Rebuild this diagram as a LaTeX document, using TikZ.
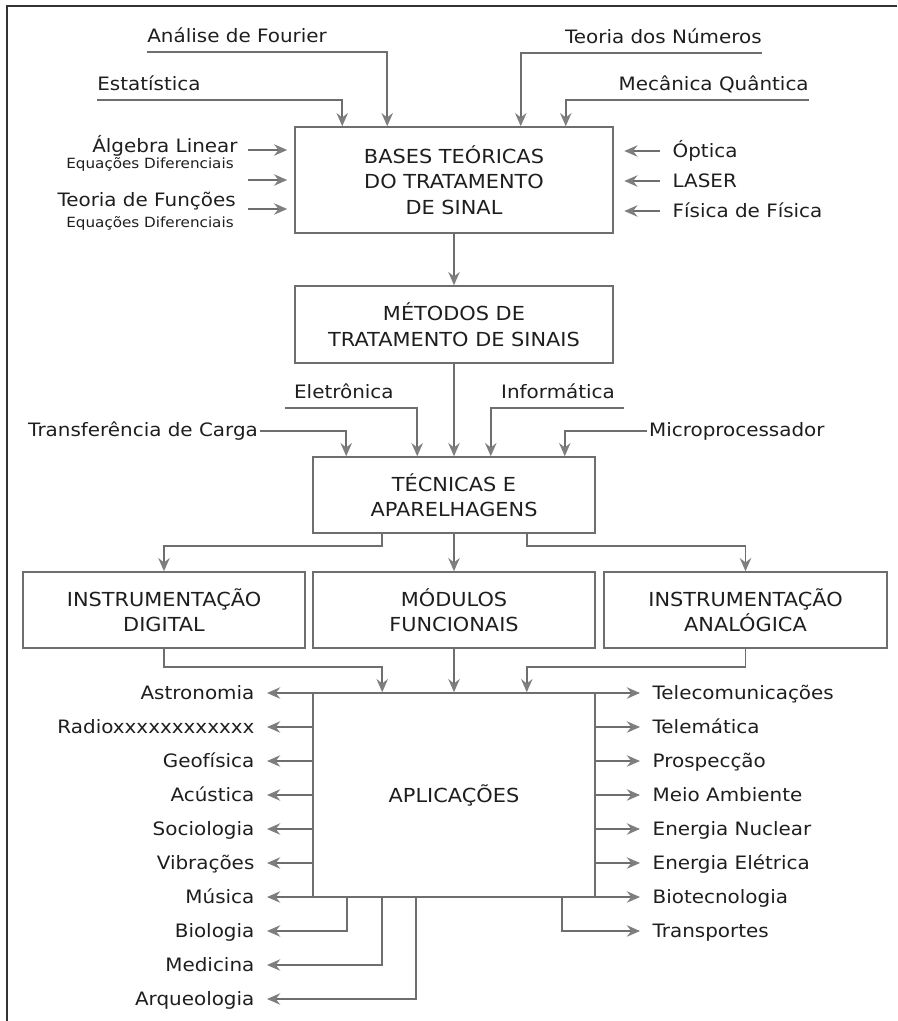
\documentclass[tikz,border=0pt]{standalone}
\usepackage{fontspec}
\setmainfont{DejaVu Sans}[FakeStretch=1.08]
\usetikzlibrary{arrows.meta}
\definecolor{traco}{HTML}{6E6E6E}
\definecolor{ponta}{HTML}{7E7E7E}
\definecolor{moldura}{HTML}{333333}
\definecolor{texto}{HTML}{1E1E1E}
\newcommand{\appesq}[3]{\node[rotesq] (#1) at (267,#2) {#3};}
\newcommand{\appdir}[3]{\node[rotdir] (#1) at (640,#2) {#3};}
\newcommand{\saiesq}[1]{\draw[seta] (aplic.west |- #1) -- (#1.east);}
\newcommand{\saidir}[1]{\draw[seta] (aplic.east |- #1) -- (#1.west);}
\begin{document}
\begin{tikzpicture}[x=0.02cm,y=-0.02cm,text=texto,
  font=\fontsize{10.5}{13}\selectfont,
  bloco/.style={draw=traco,line width=0.9pt,align=center,inner sep=0pt,
    font=\fontsize{11}{14.5}\selectfont},
  seta/.style={draw=traco,line width=0.9pt,
    -{Stealth[length=7.5pt,width=6.5pt,inset=2.5pt,color=ponta]}},
  entrada/.style={inner xsep=0pt,inner ysep=5pt,text depth=0pt},
  rotesq/.style={anchor=east,inner xsep=7pt,inner ysep=0pt,text height=7.6pt,text depth=0pt},
  rotdir/.style={anchor=west,inner xsep=7pt,inner ysep=0pt,text height=7.6pt,text depth=0pt},
  pequeno/.style={font=\fontsize{8}{9}\selectfont}]
   	\useasboundingbox (0,0) rectangle (897,1021);
   	\draw[moldura,line width=1pt] (897,6) -- (7,6) -- (7,1021);

	\node[bloco,minimum width=6.36cm,minimum height=2.12cm] (bases) at (454,180) {BASES TEÓRICAS\\DO TRATAMENTO\\DE SINAL};
	\node[bloco,minimum width=6.36cm,minimum height=1.54cm] (metodos) at (454,324.5) {MÉTODOS DE\\TRATAMENTO DE SINAIS};
	\node[bloco,minimum width=5.64cm,minimum height=1.52cm] (tecnicas) at (454,495) {TÉCNICAS E\\APARELHAGENS};
	\node[bloco,minimum width=5.64cm,minimum height=1.52cm] (digital) at (164,610) {INSTRUMENTAÇÃO\\DIGITAL};
	\node[bloco,minimum width=5.64cm,minimum height=1.52cm] (modulos) at (454,610) {MÓDULOS\\FUNCIONAIS};
	\node[bloco,minimum width=5.66cm,minimum height=1.52cm] (analog) at (745.5,610) {INSTRUMENTAÇÃO\\ANALÓGICA};
	\node[bloco,minimum width=5.64cm,minimum height=4.08cm] (aplic) at (454,795) {APLICAÇÕES};

	\node[entrada,anchor=south west] (fourier) at (147,52) {Análise de Fourier};
	\node[entrada,anchor=south west] (estat) at (97,100) {Estatística};
	\node[entrada,anchor=south east] (numeros) at (762,53) {Teoria dos Números};
	\node[entrada,anchor=south east] (mecanica) at (809,100) {Mecânica Quântica};
	\draw[seta] (fourier.south west) -| ([xshift=1.86cm]bases.north west);
	\draw[seta] (estat.south west) -| ([xshift=0.96cm]bases.north west);
	\draw[seta] (numeros.south east) -| ([xshift=-1.86cm]bases.north east);
	\draw[seta] (mecanica.south east) -| ([xshift=-0.96cm]bases.north east);

	\node[anchor=base east,inner sep=0pt] (algebra) at (238,152) {Álgebra Linear};
	\node[anchor=base east,inner sep=0pt,pequeno] (eqdif1) at (234,168) {Equações Diferenciais};
	\node[anchor=base east,inner sep=0pt] (teoriaf) at (236,206) {Teoria de Funções};
	\node[anchor=base east,inner sep=0pt,pequeno] (eqdif2) at (234,227) {Equações Diferenciais};
	\coordinate (in1) at (248,150);
	\coordinate (in2) at (248,180);
	\coordinate (in3) at (248,209);
	\draw[seta,shorten >=4pt] (in1) -- (bases.west |- in1);
	\draw[seta,shorten >=4pt] (in2) -- (bases.west |- in2);
	\draw[seta,shorten >=4pt] (in3) -- (bases.west |- in3);

	\node[rotdir] (optica) at (660,151) {Óptica};
	\node[rotdir] (laser) at (660,181) {LASER};
	\node[rotdir] (fisica) at (660,211) {Física de Física};
	\draw[seta,shorten >=6pt] (optica.west) -- (bases.east |- optica);
	\draw[seta,shorten >=6pt] (laser.west) -- (bases.east |- laser);
	\draw[seta,shorten >=6pt] (fisica.west) -- (bases.east |- fisica);

	\draw[seta] (bases.south) -- (metodos.north);
	\draw[seta] (metodos.south) -- (tecnicas.north);

	\node[entrada,inner xsep=5pt,anchor=south west] (eletro) at (285,408) {Eletrônica};
	\node[entrada,inner xsep=5pt,anchor=south east] (info) at (624,408) {Informática};
	\node[anchor=east,inner xsep=1pt] (transf) at (260,431) {Transferência de Carga};
	\node[anchor=west,inner xsep=1pt] (micro) at (647,431) {Microprocessador};
	\draw[seta] (transf.east) -| ([xshift=0.68cm]tecnicas.north west);
	\draw[seta] (eletro.south west) -| ([xshift=2.1cm]tecnicas.north west);
	\draw[seta] (info.south east) -| ([xshift=-2.1cm]tecnicas.north east);
	\draw[seta] (micro.west) -| ([xshift=-0.62cm]tecnicas.north east);

	\draw[seta] ([xshift=1.4cm]tecnicas.south west) -- ++(0,12) -| (digital.north);
	\draw[seta] (tecnicas.south) -- (modulos.north);
	\draw[seta] ([xshift=-1.38cm]tecnicas.south east) -- ++(0,12) -| (analog.north);

	\draw[seta] (digital.south) -- ++(0,18) -| ([xshift=1.4cm]aplic.north west);
	\draw[seta] (modulos.south) -- (aplic.north);
	\draw[seta] (analog.south) -- ++(0,18) -| ([xshift=-1.38cm]aplic.north east);

	\appesq{astro}{693}{Astronomia} \appesq{radio}{727}{Radioxxxxxxxxxxxx}
	\appesq{geof}{761}{Geofísica} \appesq{acust}{795}{Acústica}
	\appesq{socio}{829}{Sociologia} \appesq{vibra}{863}{Vibrações}
	\appesq{musica}{897}{Música} \appesq{bio}{931}{Biologia}
	\appesq{medic}{965}{Medicina} \appesq{arqueo}{999}{Arqueologia}
	\appdir{telecom}{693}{Telecomunicações} \appdir{telemat}{727}{Telemática}
	\appdir{prosp}{761}{Prospecção} \appdir{meio}{795}{Meio Ambiente}
	\appdir{enuc}{829}{Energia Nuclear} \appdir{eelet}{863}{Energia Elétrica}
	\appdir{biotec}{897}{Biotecnologia} \appdir{transp}{931}{Transportes}

	\saiesq{astro} \saiesq{radio} \saiesq{geof} \saiesq{acust}
	\saiesq{socio} \saiesq{vibra} \saiesq{musica}
	\draw[seta] ([xshift=0.7cm]aplic.south west) |- (bio.east);
	\draw[seta] ([xshift=1.4cm]aplic.south west) |- (medic.east);
	\draw[seta] ([xshift=2.08cm]aplic.south west) |- (arqueo.east);
	\saidir{telecom} \saidir{telemat} \saidir{prosp} \saidir{meio}
	\saidir{enuc} \saidir{eelet} \saidir{biotec}
	\draw[seta] ([xshift=-0.68cm]aplic.south east) |- (transp.west);
\end{tikzpicture}
\end{document}
